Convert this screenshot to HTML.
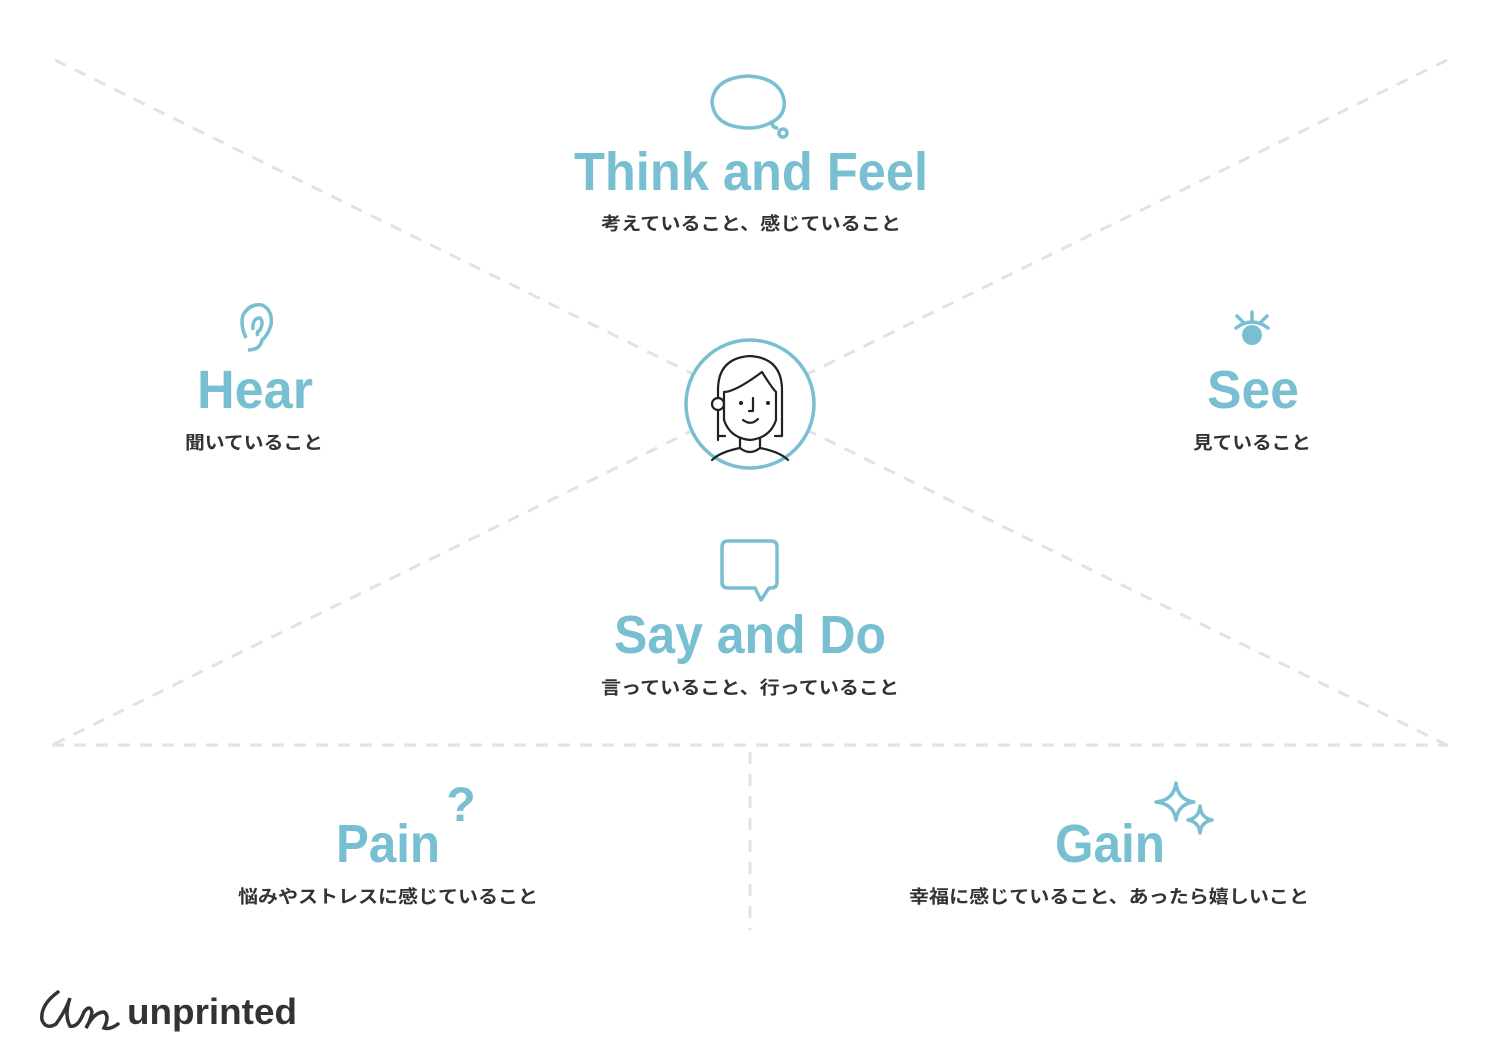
<!DOCTYPE html>
<html><head><meta charset="utf-8"><style>
html,body{margin:0;padding:0;background:#fff;}
svg{display:block}
.t{font-family:"Liberation Sans",sans-serif;font-weight:bold;fill:#79bfd2;}
.s{font-family:"Liberation Sans","Noto Sans CJK JP",sans-serif;font-weight:bold;fill:#333;font-size:18px;}
</style></head><body>
<svg width="1500" height="1062" viewBox="0 0 1500 1062" xmlns="http://www.w3.org/2000/svg">
<g stroke="#e2e2e2" stroke-width="3" stroke-dasharray="12 10" fill="none">
<line x1="55" y1="60" x2="1447" y2="745"/>
<line x1="1447" y1="60" x2="52" y2="745"/>
<line x1="52" y1="745" x2="1448" y2="745"/>
<line x1="750" y1="752" x2="750" y2="930"/>
</g>
<circle cx="750" cy="404" r="64" fill="#fff" stroke="#79bfd2" stroke-width="3.5"/>
<g stroke="#222" stroke-width="2.2" fill="none" stroke-linecap="round" stroke-linejoin="round">
<path d="M718 440 V390 Q718 358 750 356 Q782 358 782 390 V436 H775"/>
<path d="M725 436 H718"/>
<path d="M724 392 Q735 392 762 372 Q772 388 776 392"/>
<path d="M724 392 V420 Q730 438 750 440 Q770 438 776 420 V392"/>
<circle cx="718" cy="404" r="6" fill="#fff"/>
<path d="M740 438 V448 Q720 452 712 460"/>
<path d="M760 438 V448 Q780 452 788 460"/>
<path d="M740 448 Q750 456 760 448"/>
<path d="M753 398 V411 H749"/>
<path d="M743 420 Q751 426 758 419"/>
</g>
<circle cx="741" cy="403" r="2" fill="#222"/><circle cx="768" cy="403" r="2" fill="#222"/>
<g stroke="#79bfd2" stroke-width="3.5" fill="none">
<path d="M772 122 Q786 115 784 100 Q780 78 748 76 Q714 78 712 102 Q714 127 748 128 Q762 128 772 122 Q772 128 778 128"/>
<circle cx="783" cy="133" r="4"/>
<path d="M728 541 H771 Q777 541 777 547 V582 Q777 588 771 588 H769 L761 600 L755 588 H728 Q722 588 722 582 V547 Q722 541 728 541 Z" stroke-linejoin="round"/>
<path d="M246 338 Q240 325 243 315 Q250 303 262 305 Q273 310 271 325 Q268 335 262 340 Q260 350 248 350 M253 330 Q252 318 260 318 Q264 322 260 330 Q256 332 258 336"/>
<path d="M1176 783 Q1178 800 1194 802 Q1178 804 1176 820 Q1174 804 1156 802 Q1174 800 1176 783 Z" stroke-linejoin="round"/>
<path d="M1200 806 Q1201 818 1212 820 Q1201 822 1200 833 Q1199 822 1188 820 Q1199 818 1200 806 Z" stroke-linejoin="round"/>
</g>
<g stroke="#79bfd2" stroke-width="3.5" stroke-linecap="round">
<line x1="1252" y1="312" x2="1252" y2="320"/><line x1="1237" y1="316" x2="1243" y2="322"/><line x1="1267" y1="316" x2="1261" y2="322"/>
<path d="M1236 328 Q1252 316 1268 328" fill="none"/>
</g>
<circle cx="1252" cy="335" r="10" fill="#79bfd2"/>
<text x="461" y="821" class="t" font-size="48" text-anchor="middle">?</text>
<text x="751" y="190" class="t" font-size="54" text-anchor="middle" textLength="354" lengthAdjust="spacingAndGlyphs">Think and Feel</text>
<text x="751" y="230" class="s" text-anchor="middle" textLength="300" lengthAdjust="spacingAndGlyphs">考えていること、感じていること</text>
<text x="255" y="408" class="t" font-size="54" text-anchor="middle" textLength="116" lengthAdjust="spacingAndGlyphs">Hear</text>
<text x="254" y="449" class="s" text-anchor="middle" textLength="138" lengthAdjust="spacingAndGlyphs">聞いていること</text>
<text x="1253" y="408" class="t" font-size="54" text-anchor="middle" textLength="92" lengthAdjust="spacingAndGlyphs">See</text>
<text x="1252" y="449" class="s" text-anchor="middle" textLength="118" lengthAdjust="spacingAndGlyphs">見ていること</text>
<text x="750" y="653" class="t" font-size="54" text-anchor="middle" textLength="272" lengthAdjust="spacingAndGlyphs">Say and Do</text>
<text x="750" y="694" class="s" text-anchor="middle" textLength="298" lengthAdjust="spacingAndGlyphs">言っていること、行っていること</text>
<text x="388" y="862" class="t" font-size="54" text-anchor="middle" textLength="104" lengthAdjust="spacingAndGlyphs">Pain</text>
<text x="388" y="903" class="s" text-anchor="middle" textLength="300" lengthAdjust="spacingAndGlyphs">悩みやストレスに感じていること</text>
<text x="1110" y="862" class="t" font-size="54" text-anchor="middle" textLength="110" lengthAdjust="spacingAndGlyphs">Gain</text>
<text x="1109" y="903" class="s" text-anchor="middle" textLength="400" lengthAdjust="spacingAndGlyphs">幸福に感じていること、あったら嬉しいこと</text>
<path d="M58 992 Q40 1005 42 1020 Q46 1030 56 1024 Q66 1010 70 998 Q64 1015 70 1026 Q78 1028 84 1012 Q90 1004 92 1012 Q90 1022 86 1028 Q94 1012 104 1012 Q110 1016 104 1028 Q110 1030 118 1024" fill="none" stroke="#333" stroke-width="3.5" stroke-linecap="round"/>
<text x="127" y="1024" font-family="'Liberation Sans',sans-serif" font-weight="bold" font-size="36" fill="#333" textLength="170" lengthAdjust="spacingAndGlyphs">unprinted</text>
</svg>
</body></html>
